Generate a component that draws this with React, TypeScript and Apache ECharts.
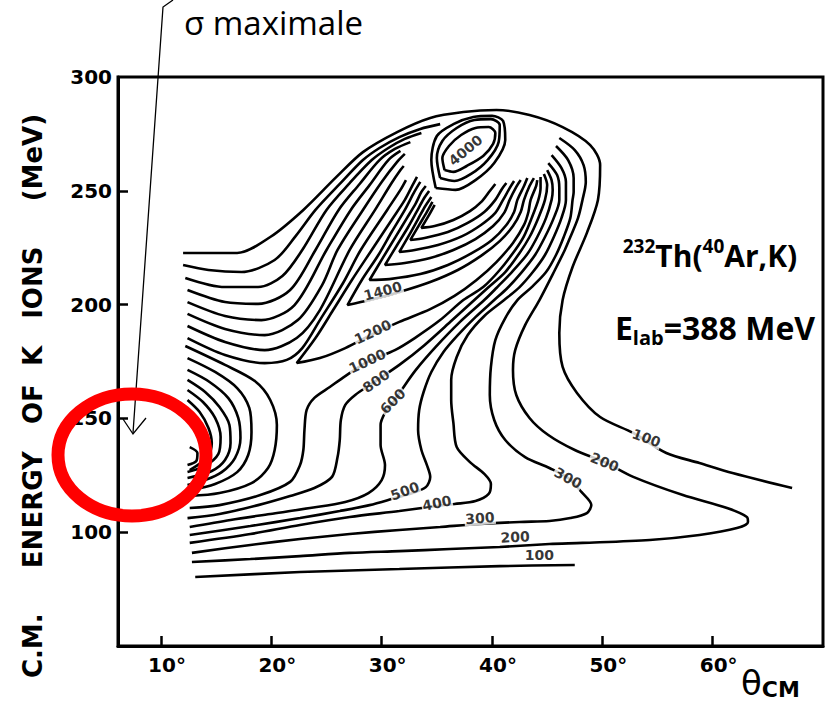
import React, { useEffect, useRef } from 'react';
import * as echarts from 'echarts';

const xTickValues = [10, 20, 30, 40, 50, 60];
const yTickValues = [100, 150, 200, 250];
const yLabelValues = [100, 150, 200, 250, 300];

// contour lines, [theta (deg), E (MeV)]
const c100Upper = [[12.0,222.7],[16.9,222.7],[19.9,229.7],[22.9,241.6],[25.9,256.1],[28.3,267.0],[31.4,275.8],[34.4,282.0],[37.4,284.6],[40.4,285.5],[43.4,283.3],[46.4,278.0],[48.9,270.1],[49.8,261.3],[49.6,246.0],[48.6,231.5],[47.3,216.5],[46.4,202.0],[46.1,187.5],[46.4,172.6],[47.7,161.2],[49.8,150.6],[52.8,143.6],[55.8,134.8],[58.8,130.4],[61.8,126.0],[67.2,119.4]];
const c100Lower = [[13.1,80.3],[22.6,82.5],[31.6,83.8],[40.7,85.1],[47.5,85.6]];
const c200Left = [[12.0,217.4],[14.3,215.2],[17.3,214.3],[20.3,219.6],[22.2,230.1],[24.0,241.6],[26.2,253.0],[28.3,263.5],[29.8,268.8],[31.6,273.6],[33.5,277.2],[35.3,279.3]];
const c200Right = [[46.1,273.2],[47.5,267.9],[48.3,261.3],[48.5,253.9],[48.2,246.0],[47.8,238.1],[47.1,229.7],[46.6,224.0],[45.7,215.2],[44.3,202.0],[43.0,191.0],[42.1,180.0],[41.9,171.3],[42.2,160.3],[43.4,150.2],[45.1,142.7],[47.5,136.1],[50.2,130.8],[52.8,124.3],[57.3,116.3],[61.3,110.6],[63.1,106.7],[63.2,104.5],[62.2,101.8],[58.8,98.8],[54.3,96.6],[48.2,95.3],[45.2,94.8],[40.7,93.5],[36.2,92.6],[31.6,91.7],[27.1,90.9],[22.6,89.5],[18.1,88.2],[12.8,86.9]];
const c300Left = [[12.2,211.7],[15.8,207.7],[18.8,207.7],[21.0,212.6],[22.8,224.0],[25.0,241.6],[27.1,253.4],[29.1,263.5],[30.6,268.8],[32.1,272.8],[33.6,275.4]];
const c300Right = [[45.8,269.7],[46.9,263.5],[47.4,255.6],[47.4,249.5],[47.3,246.0],[47.1,238.1],[46.5,229.7],[45.8,221.8],[44.9,214.3],[43.6,207.7],[42.3,202.0],[41.2,194.1],[40.3,184.4],[39.9,172.6],[39.8,160.3],[40.2,149.3],[41.2,140.5],[43.0,133.0],[45.2,128.2],[46.9,123.8],[48.1,117.7],[49.0,111.9],[48.6,108.4],[47.1,106.2],[45.2,104.9],[42.5,104.5],[38.9,103.6],[35.3,102.3],[31.6,101.0],[27.1,99.2],[22.6,97.0],[18.1,94.4],[12.8,90.9]];
const c400Left = [[12.4,206.4],[15.8,201.1],[18.8,200.3],[21.7,206.4],[24.0,224.0],[26.1,241.6],[28.0,253.0],[29.8,263.5],[31.2,268.4],[32.6,271.4]];
const c400Right = [[45.4,265.7],[46.3,260.0],[46.7,253.9],[46.7,246.0],[46.3,238.1],[45.6,229.7],[44.8,221.8],[43.7,214.3],[42.5,207.7],[41.1,202.0],[39.3,195.0],[37.8,186.6],[36.8,177.0],[36.3,166.9],[36.3,158.1],[36.5,148.0],[36.8,137.4],[38.0,130.8],[39.3,125.6],[39.9,121.2],[39.7,116.8],[38.5,113.7],[36.6,112.4],[35.0,111.5],[31.6,109.3],[27.1,106.7],[22.6,103.2],[18.1,99.2],[12.6,95.3]];
const c500Left = [[12.4,201.1],[15.8,195.0],[19.1,193.2],[22.1,199.8],[25.0,224.0],[27.2,241.6],[28.9,252.5],[30.6,263.5],[31.7,267.5]];
const c500Right = [[45.1,262.2],[45.9,256.9],[46.1,251.2],[46.1,246.0],[45.6,238.1],[44.8,229.7],[43.9,221.8],[42.7,214.3],[41.4,207.3],[40.2,202.0],[38.5,194.5],[36.9,186.6],[35.6,179.2],[34.5,170.4],[33.8,161.6],[33.4,153.7],[33.3,144.9],[33.6,136.1],[34.1,129.5],[34.4,124.3],[34.0,119.8],[32.8,117.2],[31.2,115.0],[28.9,111.9],[26.2,109.3],[22.6,106.2],[18.1,102.7],[12.6,98.8]];
const c600Left = [[12.4,195.9],[15.8,189.3],[19.4,186.6],[22.4,193.2],[24.6,208.6],[26.0,224.0],[28.3,241.6],[30.0,253.9],[31.4,262.7],[32.1,266.2]];
const c600Right = [[45.0,259.1],[45.4,254.7],[45.5,250.4],[45.4,246.0],[44.9,238.1],[44.1,229.7],[43.2,222.2],[41.8,214.3],[40.4,207.3],[39.3,202.0],[37.1,192.4],[34.9,181.4],[33.1,171.3],[31.8,162.5],[31.0,156.8],[30.3,152.4],[29.9,147.1],[29.9,138.3],[30.3,129.5],[30.0,122.9],[28.8,117.2],[26.7,113.3],[23.5,110.6],[19.9,108.0],[16.3,105.4],[12.6,102.3]];
const c800Left = [[12.4,190.6],[15.8,183.6],[19.4,180.0],[22.3,185.3],[24.4,197.6],[27.1,224.0],[29.4,241.6],[30.9,253.4],[31.7,259.1],[32.0,260.9]];
const c800Right = [[44.7,257.4],[45.0,252.5],[44.8,246.0],[44.2,238.1],[43.4,229.7],[42.5,222.7],[41.2,214.3],[39.6,207.3],[38.4,202.0],[36.4,193.2],[33.9,182.3],[31.6,173.5],[29.2,165.6],[27.6,160.3],[26.7,155.9],[26.3,149.3],[26.2,140.5],[26.0,133.0],[25.5,124.3],[23.9,119.4],[21.7,115.9],[18.8,111.9],[15.3,108.0],[12.4,106.2]];
const c1000Left = [[12.4,185.3],[15.8,177.9],[19.4,174.3],[21.4,175.7],[22.8,180.9],[24.4,193.2],[26.5,209.5],[28.1,224.0],[30.5,241.6],[31.7,250.4],[32.2,254.7]];
const c1000Right = [[44.4,256.1],[44.4,251.2],[44.2,246.0],[43.6,238.1],[42.9,230.1],[42.1,224.0],[40.7,215.2],[39.2,207.7],[37.4,202.0],[35.3,193.2],[33.0,185.3],[31.2,180.0],[28.7,174.8],[26.7,168.6],[25.3,163.8],[23.9,159.0],[23.2,153.7],[23.0,144.9],[22.9,136.1],[22.6,129.5],[21.7,122.1],[19.0,116.3],[15.3,111.9],[12.6,110.6]];
const c1200V = [[33.2,256.1],[32.8,252.5],[32.1,246.0],[30.9,237.2],[29.1,224.0],[27.3,210.8],[25.6,197.6],[24.0,185.3],[22.3,174.3],[24.4,176.5],[26.7,180.9],[29.2,187.1],[31.6,192.4],[34.4,198.0],[36.6,203.8],[38.6,210.8],[40.4,218.7],[41.9,227.1],[42.9,235.0],[43.3,240.7],[43.5,246.0],[44.0,252.1],[44.1,254.7]];
const c1400V = [[33.5,253.9],[32.9,249.0],[32.1,241.6],[30.9,231.9],[29.7,221.8],[28.2,210.8],[26.9,199.8],[28.9,202.0],[31.6,205.5],[34.4,209.9],[36.9,215.2],[39.0,221.4],[40.7,227.9],[41.9,234.5],[42.6,240.7],[42.9,246.0],[43.4,252.1],[43.8,255.6]];
const c1600V = [[34.0,252.1],[33.6,249.5],[33.1,244.6],[32.3,238.1],[31.3,230.1],[30.1,220.5],[28.9,210.8],[30.7,211.2],[33.5,213.4],[36.0,217.4],[38.2,222.7],[40.0,228.4],[41.3,235.0],[42.0,240.7],[42.3,246.0],[42.9,252.1],[43.2,255.6]];
const c1800V = [[34.3,249.9],[33.8,246.4],[33.2,241.1],[32.4,234.1],[31.4,226.2],[30.3,217.4],[32.1,218.3],[34.4,220.5],[36.5,224.0],[38.5,228.8],[40.1,234.5],[41.1,240.3],[41.6,246.0],[42.2,251.7],[42.6,254.7]];
const c2000V = [[34.5,247.3],[33.9,242.9],[33.3,237.6],[32.5,230.6],[31.6,223.1],[33.0,224.0],[35.1,226.2],[37.3,230.1],[39.0,235.0],[40.3,240.3],[41.0,246.0],[41.6,251.2],[42.0,254.3]];
const c2200V = [[34.6,245.1],[34.1,240.7],[33.4,235.0],[32.6,228.4],[33.9,229.3],[36.0,231.9],[37.8,235.9],[39.3,240.7],[40.3,246.0],[40.9,250.8],[41.3,253.4]];
const c2400V = [[34.8,243.8],[34.3,239.4],[33.6,233.7],[34.8,234.5],[36.5,237.2],[38.0,241.1],[39.1,245.5],[39.8,249.9],[40.3,253.0]];
const c3000Ring = [[34.9,251.2],[34.5,263.5],[35.0,274.1],[36.5,279.3],[38.3,282.4],[40.0,282.9],[41.0,280.7],[41.2,272.3],[40.2,262.2],[38.5,254.7],[36.7,250.4],[34.9,251.2]];
const c3500Ring = [[35.3,255.6],[35.0,264.4],[35.5,271.9],[36.8,277.6],[38.4,281.1],[39.9,281.5],[40.7,278.9],[40.6,271.4],[39.6,263.5],[38.1,257.4],[36.6,254.3],[35.3,255.6]];
const c4000Ring = [[35.7,259.1],[35.5,264.4],[36.1,269.7],[37.2,274.5],[38.5,277.6],[39.7,278.0],[40.3,275.4],[40.1,270.6],[39.2,265.3],[37.7,260.9],[36.5,258.3],[35.7,259.1]];
// closed contours round the low-angle maximum (left edge)
const p1 = [[12.2,181.8],[15.8,173.5],[18.5,166.4],[19.9,158.1],[20.5,147.1],[20.3,136.1],[19.7,128.2],[18.2,121.6],[15.3,117.2],[12.6,115.9]];
const p2 = [[12.4,176.5],[14.9,170.4],[16.9,163.3],[18.0,154.6],[18.2,144.0],[17.9,133.9],[16.9,126.4],[14.9,121.2],[12.6,118.5]];
const p3 = [[12.4,171.3],[14.4,166.0],[16.1,158.9],[17.0,150.2],[17.2,141.4],[16.7,132.6],[15.5,126.4],[14.0,122.9],[12.4,120.7]];
const p4 = [[12.4,166.9],[14.0,161.6],[15.3,155.0],[16.2,147.1],[16.3,139.2],[15.8,131.7],[14.6,126.9],[12.4,123.8]];
const p5 = [[12.4,162.5],[13.8,157.2],[14.9,150.2],[15.4,141.8],[15.2,134.4],[14.0,129.1],[12.4,126.4]];
const p6 = [[12.4,158.1],[13.5,152.8],[14.3,145.8],[14.6,139.2],[14.2,133.0],[12.6,127.3]];
const p7 = [[12.6,137.4],[13.3,134.8],[13.2,131.3],[12.4,129.5]];

const contourLines = [c100Upper, c100Lower, c200Left, c200Right, c300Left, c300Right, c400Left, c400Right, c500Left, c500Right, c600Left, c600Right, c800Left, c800Right, c1000Left, c1000Right, c1200V, c1400V, c1600V, c1800V, c2000V, c2200V, c2400V, c3000Ring, c3500Ring, c4000Ring, p1, p2, p3, p4, p5, p6, p7];

// contour labels: theta, E, text, rotation (deg)
const labelTexts = ['4000', '1400', '1200', '1000', '800', '600', '500', '400', '300', '200', '100', '300', '200', '100'];
const labelTheta = [37.6, 30.1, 29.2, 28.7, 29.5, 31.0, 32.1, 35.0, 38.9, 42.1, 44.3, 46.9, 50.2, 54.0];
const labelE = [267.9, 206.0, 188.0, 175.2, 166.4, 157.6, 118.1, 112.8, 106.2, 97.9, 90.0, 123.8, 130.8, 141.4];
const labelRotate = [40, 15, 25, 25, 35, 45, 20, 12, 5, 3, 0, -28, -22, -20];

export default function App() {
  const ref = useRef<HTMLDivElement>(null);
  useEffect(() => {
    const chart = echarts.init(ref.current!, null, { renderer: 'svg' });
    const lineSeries = contourLines.map((d) => ({
      type: 'line',
      data: d,
      showSymbol: false,
      smooth: 0.3,
      silent: true,
      lineStyle: { color: '#000', width: 2.6 },
      z: 2,
    }));
    const labelSeries = {
      type: 'scatter',
      symbolSize: 0,
      silent: true,
      z: 5,
      data: labelTexts.map((t, i) => ({
        value: [labelTheta[i], labelE[i]],
        label: { formatter: t, rotate: labelRotate[i] },
      })),
      label: {
        show: true,
        position: 'inside',
        color: '#000',
        fontSize: 14,
        fontWeight: 'bold',
        fontFamily: 'DejaVu Sans',
        backgroundColor: '#fff',
        padding: [0, 1],
      },
    };
    const tickFont = { fontSize: 20, fontWeight: 'bold', fontFamily: 'DejaVu Sans', color: '#000' };
    chart.setOption({
      animation: false,
      backgroundColor: '#fff',
      grid: { left: 118, right: 7, top: 77, bottom: 57, show: true, borderColor: '#000', borderWidth: 3, backgroundColor: 'transparent' },
      xAxis: {
        type: 'value', min: 6.1, max: 70,
        axisLine: { show: true, lineStyle: { color: '#000', width: 3 } },
        axisTick: { show: true, inside: true, length: 10, lineStyle: { color: '#000', width: 2.5 }, customValues: xTickValues },
        axisLabel: { ...tickFont, margin: 9, padding: [0, 0, 0, 12], customValues: xTickValues, formatter: (v: number) => v + '°' },
        splitLine: { show: false },
      },
      yAxis: {
        type: 'value', min: 50, max: 300,
        axisLine: { show: true, lineStyle: { color: '#000', width: 3 } },
        axisTick: { show: true, inside: true, length: 10, lineStyle: { color: '#000', width: 2.5 }, customValues: yTickValues },
        axisLabel: { ...tickFont, margin: 6, customValues: yLabelValues },
        splitLine: { show: false },
      },
      series: [...lineSeries, labelSeries],
      graphic: [
        { type: 'polyline', z: 50, shape: { points: [[173, 0], [163, 7], [133, 433]] }, style: { stroke: '#000', lineWidth: 1.3, fill: null } },
        { type: 'polyline', z: 50, shape: { points: [[123, 419], [133, 434], [146, 418]] }, style: { stroke: '#000', lineWidth: 1.3, fill: null } },
        { type: 'ellipse', z: 60, shape: { cx: 132, cy: 455, rx: 74, ry: 61 }, style: { fill: null, stroke: '#ff0000', lineWidth: 13 } },
        { type: 'text', z: 50, x: 184, y: 22, style: { text: 'σ maximale', fontSize: 33, fontFamily: 'Open Sans', fill: '#000', align: 'left', verticalAlign: 'middle' } },
        { type: 'text', z: 50, x: 33, y: 396, rotation: Math.PI / 2, style: { text: 'C.M.     ENERGY   OF  K   IONS     (MeV)', fontSize: 26, fontWeight: 'bold', fontFamily: 'DejaVu Sans', fill: '#000', align: 'center', verticalAlign: 'middle' } },
        { type: 'text', z: 50, x: 741, y: 683, style: { text: '{t|θ}{s|CM}', fill: '#000', align: 'left', verticalAlign: 'middle', rich: { t: { fontSize: 34, fontFamily: 'DejaVu Sans', lineHeight: 34 }, s: { fontSize: 22, fontWeight: 'bold', fontFamily: 'DejaVu Sans', lineHeight: 20, verticalAlign: 'bottom' } } } },
        { type: 'text', z: 50, x: 710, y: 255, style: { text: '{sup|232}{b|Th(}{sup|40}{b|Ar,K)}', fill: '#000', align: 'center', verticalAlign: 'middle', rich: { b: { fontSize: 30, fontWeight: 'bold', fontFamily: 'Open Sans', lineHeight: 38 }, sup: { fontSize: 19, fontWeight: 'bold', fontFamily: 'Open Sans', lineHeight: 22, verticalAlign: 'top' } } } },
        { type: 'text', z: 50, x: 715, y: 327, style: { text: '{b|E}{sub|lab}{b|=388 MeV}', fill: '#000', align: 'center', verticalAlign: 'middle', rich: { b: { fontSize: 32, fontWeight: 'bold', fontFamily: 'Open Sans', lineHeight: 40 }, sub: { fontSize: 20, fontWeight: 'bold', fontFamily: 'Open Sans', lineHeight: 18, verticalAlign: 'bottom' } } } },
      ],
    });
    return () => chart.dispose();
  }, []);
  return <div ref={ref} style={{ position: 'absolute', left: 0, top: 0, width: 830, height: 703, background: '#fff' }} />;
}
